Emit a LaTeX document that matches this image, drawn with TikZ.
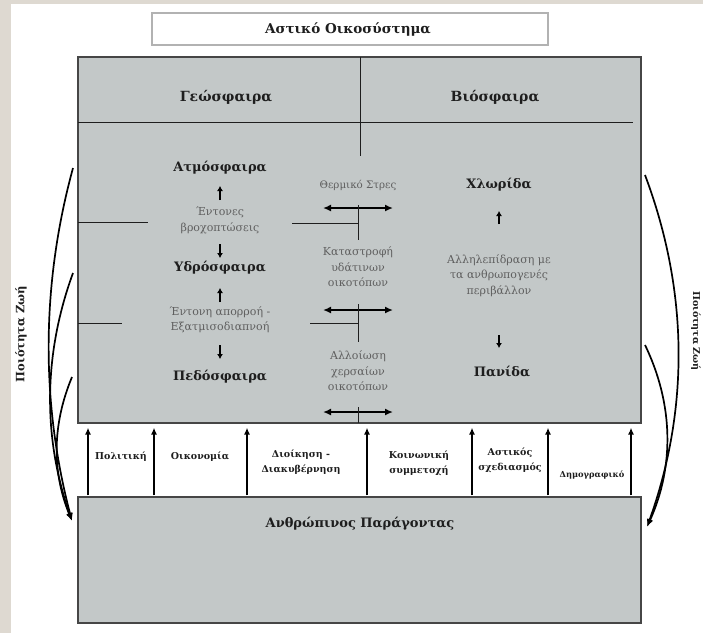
\documentclass[tikz,border=0pt]{standalone}
\usepackage{fontspec}
\setmainfont{DejaVu Serif}
\usetikzlibrary{arrows.meta}

\definecolor{panel}{RGB}{195,200,200}
\definecolor{frame}{RGB}{70,70,70}
\definecolor{paper}{RGB}{222,217,209}
\definecolor{note}{RGB}{95,95,95}
\definecolor{ink}{RGB}{30,30,30}

\begin{document}
\begin{tikzpicture}[x=1pt,y=-1pt,
  panelbox/.style={draw=frame,line width=1.2pt,fill=panel,inner sep=0pt},
  titlebox/.style={draw=black!30,line width=1.4pt,fill=white,inner sep=0pt},
  head/.style={font=\bfseries\fontsize{13}{15}\selectfont,text=ink},
  bighead/.style={font=\bfseries\fontsize{14}{16}\selectfont,text=ink},
  sub/.style={font=\fontsize{11}{15.5}\selectfont,text=note,align=center},
  term/.style={font=\bfseries\fontsize{9.5}{15}\selectfont,text=ink,align=center},
  divider/.style={draw=ink,line width=1pt},
  twoway/.style={line width=2pt,{Latex[length=8pt,width=7pt]}-{Latex[length=8pt,width=7pt]}},
  short/.style={line width=1.5pt,-{Latex[length=5pt,width=6pt]}},
  lift/.style={line width=1.6pt,-{Latex[length=7pt,width=6pt]}},
  sweep/.style={line width=1.7pt,-{Latex[length=8pt,width=6pt]}}]

\useasboundingbox (0,0) rectangle (703,633);
\fill[paper] (0,0) rectangle (703,633);
\fill[white] (11,4) rectangle (703,633);

% title
\node[titlebox,minimum width=396pt,minimum height=32pt] (title) at (350,29) {};
\node[font=\bfseries\fontsize{13.5}{15}\selectfont,text=ink] (titletext) at (348,29) {Αστικό Οικοσύστημα};

% main ecosystem panel and human-factor panel
\node[panelbox,minimum width=563pt,minimum height=366pt] (eco) at (359.5,240) {};
\node[panelbox,minimum width=563pt,minimum height=126pt] (human) at (359.5,560) {};
\node[head] (humantext) at (360,524) {Ανθρώπινος Παράγοντας};

% header row
\coordinate (hl) at (78,122);
\coordinate (hr) at (633,122);
\coordinate (vt) at (360,57);
\coordinate (vb) at (360,156);
\draw[divider] (hl) -- (hr);
\draw[divider] (vt) -- (vb);
\node[bighead] (geo) at (226,97) {Γεώσφαιρα};
\node[bighead] (bio) at (495,97) {Βιόσφαιρα};

% geosphere column
\node[head] (atm) at (220,168) {Ατμόσφαιρα};
\node[sub] (rain) at (220,220.5) {Έντονες\\βροχοπτώσεις};
\node[head] (hyd) at (220,268) {Υδρόσφαιρα};
\node[sub] (runoff) at (220,319.5) {Έντονη απορροή -\\Εξατμισοδιαπνοή};
\node[head] (ped) at (220,377) {Πεδόσφαιρα};

\coordinate (a1s) at (220,200); \coordinate (a1e) at (220,186);
\coordinate (a2s) at (220,244); \coordinate (a2e) at (220,258);
\coordinate (a3s) at (220,302); \coordinate (a3e) at (220,288);
\coordinate (a4s) at (220,345); \coordinate (a4e) at (220,359);
\draw[short] (a1s) -- (a1e);
\draw[short] (a2s) -- (a2e);
\draw[short] (a3s) -- (a3e);
\draw[short] (a4s) -- (a4e);

% broken separators between the spheres
\coordinate (s1a) at (78,222);  \coordinate (s1b) at (148,222);
\coordinate (s1c) at (292,223); \coordinate (s1d) at (358,223);
\coordinate (s2a) at (78,323);  \coordinate (s2b) at (122,323);
\coordinate (s2c) at (310,323); \coordinate (s2d) at (358,323);
\draw[divider] (s1a) -- (s1b);
\draw[divider] (s1c) -- (s1d);
\draw[divider] (s2a) -- (s2b);
\draw[divider] (s2c) -- (s2d);

% impacts column
\node[sub,font=\fontsize{10.3}{15}\selectfont] (heat) at (358,185) {Θερμικό Στρες};
\node[sub] (water) at (358,267) {Καταστροφή\\υδάτινων\\οικοτόπων};
\node[sub] (land) at (358,371) {Αλλοίωση\\χερσαίων\\οικοτόπων};

\coordinate (d1l) at (323,208); \coordinate (d1r) at (393,208);
\coordinate (d2l) at (323,310); \coordinate (d2r) at (393,310);
\coordinate (d3l) at (323,412); \coordinate (d3r) at (393,412);
\draw[twoway] (d1l) -- (d1r);
\draw[twoway] (d2l) -- (d2r);
\draw[twoway] (d3l) -- (d3r);

\coordinate (v1t) at (358,205); \coordinate (v1b) at (358,240);
\coordinate (v2t) at (358,304); \coordinate (v2b) at (358,342);
\coordinate (v3t) at (358,407); \coordinate (v3b) at (358,423);
\draw[divider] (v1t) -- (v1b);
\draw[divider] (v2t) -- (v2b);
\draw[divider] (v3t) -- (v3b);

% biosphere column
\node[head] (flora) at (499,185) {Χλωρίδα};
\node[sub] (inter) at (499,275.5) {Αλληλεπίδραση με\\τα ανθρωπογενές\\περιβάλλον};
\node[head] (fauna) at (502,372) {Πανίδα};
\coordinate (b1s) at (499,224); \coordinate (b1e) at (499,211);
\coordinate (b2s) at (499,335); \coordinate (b2e) at (499,348);
\draw[short] (b1s) -- (b1e);
\draw[short] (b2s) -- (b2e);

% human drivers between the two panels
\node[term] (pol) at (121,457) {Πολιτική};
\node[term] (econ) at (200,457) {Οικονομία};
\node[term] (gov) at (301,462) {Διοίκηση -\\Διακυβέρνηση};
\node[term] (soc) at (419,463) {Κοινωνική\\συμμετοχή};
\node[term] (plan) at (510,460) {Αστικός\\σχεδιασμός};
\node[term,font=\bfseries\fontsize{8.3}{12}\selectfont] (demo) at (592,475) {Δημογραφικό};

\foreach \i/\x in {1/88,2/154,3/247,4/367,5/472,6/548,7/631}{
  \coordinate (u\i) at (\x,0);
  \draw[lift,shorten <=1pt,shorten >=4pt] (human.north -| u\i) -- (eco.south -| u\i);
}

% quality of life feedback, left
\node[head,rotate=90,font=\bfseries\fontsize{11.5}{14}\selectfont] (qoll) at (21,334) {Ποιότητα Ζωή};
\coordinate (l1) at (73,168);
\coordinate (l2) at (73,273);
\coordinate (l3) at (72,377);
\coordinate (lt) at (72,521);
\draw[sweep] (l1) .. controls (41,285) and (41,403) .. (lt);
\draw[sweep] (l2) .. controls (43,355) and (43,438) .. (lt);
\draw[sweep] (l3) .. controls (52,425) and (52,472) .. (lt);

% quality of life feedback, right
\node[head,rotate=-90,font=\bfseries\fontsize{9.5}{12}\selectfont] (qolr) at (696,331) {Ποιότητα Ζωή};
\coordinate (r1) at (645,175);
\coordinate (r2) at (645,345);
\coordinate (rt) at (647,527);
\draw[sweep] (r1) .. controls (689,292) and (689,410) .. (rt);
\draw[sweep] (r2) .. controls (674,405) and (674,467) .. (rt);

\end{tikzpicture}
\end{document}
